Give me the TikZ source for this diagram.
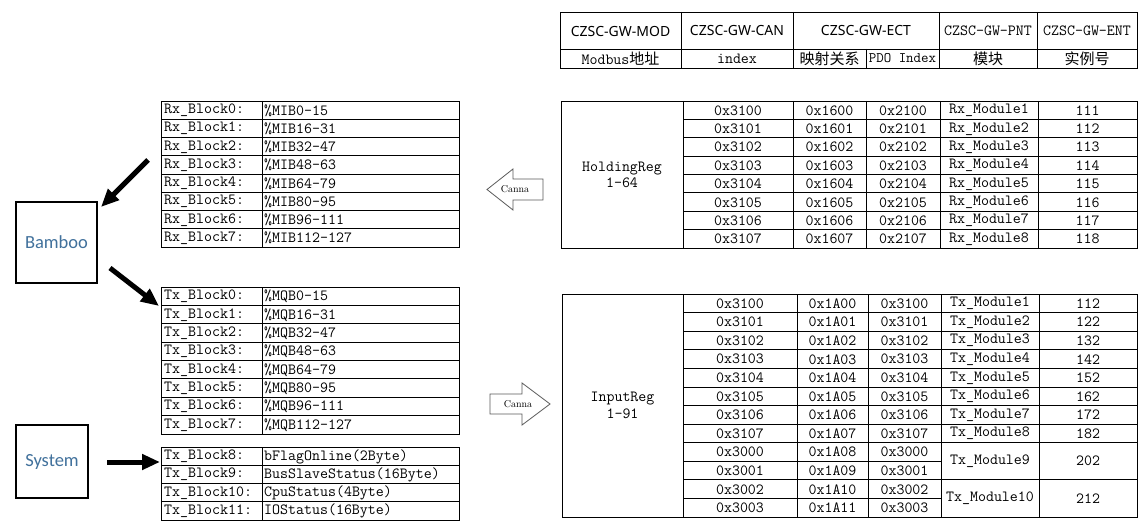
\documentclass[tikz,border=0pt]{standalone}
\usepackage{fontspec}
\newfontfamily\cjk{Noto Sans CJK SC}
\newfontfamily\hsans{Noto Sans}
\newfontfamily\calib{Carlito}
\usetikzlibrary{arrows.meta}
\definecolor{bluetxt}{RGB}{65,113,156}
\definecolor{cannaline}{RGB}{90,90,90}
\begin{document}
\begin{tikzpicture}[x=1pt,y=-1pt,
  tbl/.style={draw=black, line width=0.8pt},
  mono/.style={font=\fontsize{15.5}{16.5}\selectfont\ttfamily, inner sep=0pt},
  monow/.style={mono, anchor=west},
  hs/.style={font=\fontsize{14}{16}\selectfont\hsans, inner sep=0pt},
  cj/.style={font=\fontsize{15}{16}\selectfont\cjk, inner sep=0pt},
  sysbox/.style={draw=black, line width=2pt, font=\fontsize{18.5}{20}\selectfont\calib, text=bluetxt, inner sep=0pt},
  fat/.style={draw=black, line width=5pt, -{Triangle[length=18pt,width=15pt]}},
  canna/.style={draw=cannaline, line width=0.8pt, fill=white, line join=miter},
  cannatxt/.style={font=\fontsize{10}{11}\selectfont, inner sep=0pt}]
\useasboundingbox (0,0) rectangle (1146,524);
\fill[white] (0,0) rectangle (1146,524);

% ---------- header table ----------
\draw[tbl] (560,12) rectangle (1137,68);
\draw[tbl] (560,49) -- (1137,49);
\foreach \x in {681,793,939,1037} \draw[tbl] (\x,12) -- (\x,68);
\draw[tbl] (866,49) -- (866,68);
\node[hs] (hMOD) at (620.5,31) {CZSC-GW-MOD};
\node[hs] (hCAN) at (737,31) {CZSC-GW-CAN};
\node[hs] (hECT) at (866,31) {CZSC-GW-ECT};
\node[mono] (hPNT) at (988,31) {CZSC-GW-PNT};
\node[mono] (hENT) at (1087,31) {CZSC-GW-ENT};
\node[inner sep=0pt] (sMOD) at (620.5,58.5) {{\fontsize{15.5}{16}\selectfont\ttfamily Modbus}{\fontsize{15}{16}\selectfont\cjk 地址}};
\node[mono] (sCAN) at (737,58.5) {index};
\node[cj] (sMAP) at (829.5,58.5) {映射关系};
\node[mono, font=\fontsize{14.5}{16}\selectfont\ttfamily] (sPDO) at (902.5,58.5) {PDO Index};
\node[cj] (sPNT) at (988,58.5) {模块};
\node[cj] (sENT) at (1087,58.5) {实例号};

% ---------- HoldingReg table ----------
\draw[tbl] (561,101) rectangle (1137,248);
\foreach \x in {683,793,866,940,1038} \draw[tbl] (\x,101) -- (\x,248);
\foreach \k in {1,...,7} \draw[tbl] (683,{101+18.375*\k}) -- (1137,{101+18.375*\k});
\node[mono, align=center] (holding) at (622,175) {HoldingReg\\1-64};
\foreach \i/\v in {0/111,1/112,2/113,3/114,4/115,5/116,6/117,7/118}{
  \pgfmathsetmacro\yc{101+18.375*\i+9.4}
  \pgfmathtruncatemacro\n{\i+1}
  \node[mono] (hA\i) at (738,\yc) {0x310\i};
  \node[mono] (hB\i) at (829.5,\yc) {0x160\i};
  \node[mono] (hC\i) at (903,\yc) {0x210\i};
  \node[mono] (hD\i) at (989,\yc) {Rx\_Module\n};
  \node[mono] (hE\i) at (1087.5,\yc) {\v};
}

% ---------- InputReg table ----------
\draw[tbl] (562,294) rectangle (1137,517);
\foreach \x in {683,797,868,941,1039} \draw[tbl] (\x,294) -- (\x,517);
\foreach \k in {1,...,8,10} \draw[tbl] (683,{294+18.583*\k}) -- (1137,{294+18.583*\k});
\foreach \k in {9,11} \draw[tbl] (683,{294+18.583*\k}) -- (941,{294+18.583*\k});
\node[mono, align=center] (input) at (622.5,405.5) {InputReg\\1-91};
\foreach \i/\v in {0/112,1/122,2/132,3/142,4/152,5/162,6/172,7/182}{
  \pgfmathsetmacro\yc{294+18.583*\i+9.5}
  \pgfmathtruncatemacro\n{\i+1}
  \node[mono] (iA\i) at (740,\yc) {0x310\i};
  \node[mono] (iB\i) at (832.5,\yc) {0x1A0\i};
  \node[mono] (iC\i) at (904.5,\yc) {0x310\i};
  \node[mono] (iD\i) at (990,\yc) {Tx\_Module\n};
  \node[mono] (iE\i) at (1088,\yc) {\v};
}
\foreach \i/\a/\b/\c in {8/0x3000/0x1A08/0x3000,9/0x3001/0x1A09/0x3001,10/0x3002/0x1A10/0x3002,11/0x3003/0x1A11/0x3003}{
  \pgfmathsetmacro\yc{294+18.583*\i+9.5}
  \node[mono] (iA\i) at (740,\yc) {\a};
  \node[mono] (iB\i) at (832.5,\yc) {\b};
  \node[mono] (iC\i) at (904.5,\yc) {\c};
}
\node[mono] (iD8) at (990,{294+18.583*9}) {Tx\_Module9};
\node[mono] (iE8) at (1088,{294+18.583*9}) {202};
\node[mono] (iD10) at (990,{294+18.583*11}) {Tx\_Module10};
\node[mono] (iE10) at (1088,{294+18.583*11}) {212};

% ---------- Rx block table ----------
\draw[tbl] (161,101) rectangle (459,247);
\draw[tbl] (262,101) -- (262,247);
\foreach \k in {1,...,7} \draw[tbl] (161,{101+18.25*\k}) -- (459,{101+18.25*\k});
\foreach \i/\r in {0/0-15,1/16-31,2/32-47,3/48-63,4/64-79,5/80-95,6/96-111,7/112-127}{
  \pgfmathsetmacro\yc{101+18.25*\i+9.4}
  \node[monow] (rxA\i) at (164,\yc) {Rx\_Block\i:};
  \node[monow] (rxB\i) at (264,\yc) {\%MIB\r};
}

% ---------- Tx block table ----------
\draw[tbl] (161,287) rectangle (459,434);
\draw[tbl] (262,287) -- (262,434);
\foreach \k in {1,...,7} \draw[tbl] (161,{287+18.375*\k}) -- (459,{287+18.375*\k});
\foreach \i/\r in {0/0-15,1/16-31,2/32-47,3/48-63,4/64-79,5/80-95,6/96-111,7/112-127}{
  \pgfmathsetmacro\yc{287+18.375*\i+9.4}
  \node[monow] (txA\i) at (164,\yc) {Tx\_Block\i:};
  \node[monow] (txB\i) at (264,\yc) {\%MQB\r};
}

% ---------- Tx status table ----------
\draw[tbl] (161,447) rectangle (459,520);
\draw[tbl] (262,447) -- (262,520);
\foreach \k in {1,2,3} \draw[tbl] (161,{447+18.25*\k}) -- (459,{447+18.25*\k});
\foreach \i/\n/\r in {0/8/bFlagOnline(2Byte),1/9/BusSlaveStatus(16Byte),2/10/CpuStatus(4Byte),3/11/IOStatus(16Byte)}{
  \pgfmathsetmacro\yc{447+18.25*\i+9.4}
  \node[monow] (tsA\i) at (164,\yc) {Tx\_Block\n:};
  \node[monow] (tsB\i) at (264,\yc) {\r};
}

% ---------- Bamboo / System ----------
\node[sysbox, minimum width=81pt, minimum height=81pt] (bamboo) at (56.5,242.5) {Bamboo};
\node[sysbox, minimum width=72pt, minimum height=73pt] (system) at (52,461.5) {System};

\coordinate (a1s) at (148,160);
\coordinate (a1e) at (101,207);
\coordinate (a2s) at (110,268);
\coordinate (a2e) at (159,306);
\coordinate (a3s) at (107,462);
\coordinate (a3e) at (160,462);
\draw[fat] (a1s) -- (a1e);
\draw[fat] (a2s) -- (a2e);
\draw[fat] (a3s) -- (a3e);

% ---------- Canna block arrows ----------
\draw[canna] (487,189.5) -- (513,169) -- (513,179) -- (543,179) -- (543,200) -- (513,200) -- (513,210) -- cycle;
\node[cannatxt] (cannaL) at (515,189.5) {Canna};
\draw[canna] (550,404) -- (522,383) -- (522,394) -- (490,394) -- (490,414) -- (522,414) -- (522,425) -- cycle;
\node[cannatxt] (cannaR) at (518,404) {Canna};
\end{tikzpicture}
\end{document}
